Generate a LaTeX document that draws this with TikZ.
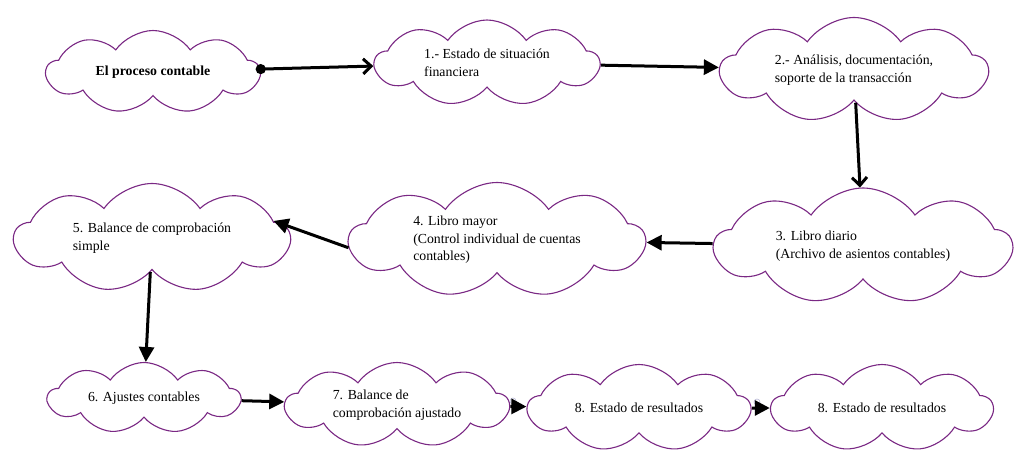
\documentclass[tikz,border=0pt]{standalone}
\usepackage{fontspec}
\setmainfont{Liberation Serif}
\usepackage{xcolor}
\usetikzlibrary{shapes,shapes.symbols,arrows.meta,positioning}

\definecolor{cloudline}{RGB}{122,40,132}

\begin{document}
\begin{tikzpicture}[x=1pt, y=-1pt,
    cloudbox/.style={cloud, cloud puffs=9, cloud puff arc=110, cloud ignores aspect, draw=cloudline, line width=1.1pt, fill=white, align=left, inner sep=0pt, font=\fontsize{13.8}{17.5}\selectfont},
    arrow/.style={-{Triangle[length=15pt,width=15pt]}, line width=3pt},
    openarrow/.style={-{Straight Barb[length=8pt,width=15pt]}, line width=3pt},
    dotarrow/.style={{Circle[length=10pt]}-{Straight Barb[length=8pt,width=15pt]}, line width=3pt, shorten <=-5pt},
    handle/.style={circle, draw=blue!25!gray!45, line width=0.6pt, inner sep=0pt, minimum size=6pt}
]
\useasboundingbox (0,0) rectangle (1025,468);

% Top row
\node[cloudbox, minimum width=213pt, minimum height=83pt] (proc) at (153,72) {\textbf{El proceso contable}};
\node[cloudbox, minimum width=224pt, minimum height=86pt] (est1) at (487,63) {1.- Estado de situación\\financiera};
\node[cloudbox, minimum width=267pt, minimum height=105pt] (anal) at (854,70) {2.- Análisis, documentación,\\soporte de la transacción};

% Middle row
\node[cloudbox, minimum width=297pt, minimum height=116pt] (diario) at (863,246) {3. Libro diario\\(Archivo de asientos contables)};
\node[cloudbox, minimum width=295pt, minimum height=115pt] (mayor) at (497,240) {4. Libro mayor\\(Control individual de cuentas\\contables)};
\node[cloudbox, minimum width=275pt, minimum height=109pt] (bal5) at (152,238) {5. Balance de comprobación\\simple};

% Bottom row
\node[cloudbox, minimum width=192pt, minimum height=71pt] (ajus) at (144,398) {6. Ajustes contables};
\node[cloudbox, minimum width=223pt, minimum height=85pt] (bal7) at (397,405) {7. Balance de\\comprobación ajustado};
\node[cloudbox, minimum width=222pt, minimum height=87pt] (res1) at (639,408) {8. Estado de resultados};
\node[cloudbox, minimum width=221pt, minimum height=87pt] (res2) at (882,408) {8. Estado de resultados};

% Handles
\node[handle] (h1) at (513,401) {};
\node[handle] (h2) at (757,402) {};

% Arrows
\draw[dotarrow] (proc) -- (est1);
\draw[arrow] (est1) -- (anal);
\draw[openarrow] (anal) -- (diario);
\draw[arrow] (diario) -- (mayor);
\draw[arrow] (mayor.183) -- (bal5.8);
\draw[arrow] (bal5) -- (ajus);
\draw[arrow] (ajus) -- (bal7);
\draw[arrow] (bal7) -- (res1);
\draw[arrow] (res1) -- (res2);

\end{tikzpicture}
\end{document}
